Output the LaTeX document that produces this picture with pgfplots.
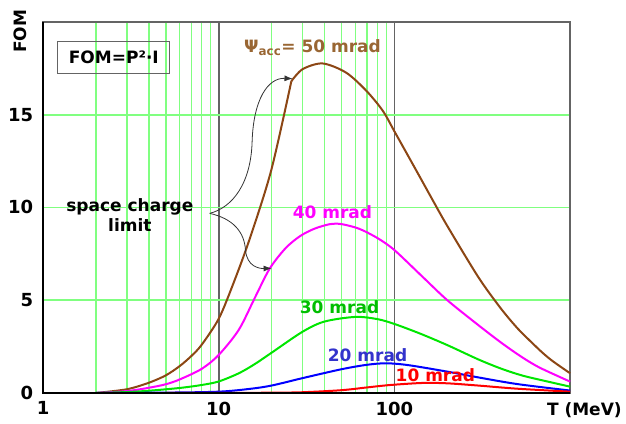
\documentclass[border=0pt]{standalone}
\usepackage{fontspec}
\setmainfont{DejaVu Sans}
\usepackage{pgfplots}
\pgfplotsset{compat=1.18}
\usetikzlibrary{arrows.meta}

\definecolor{gridgreen}{RGB}{128,255,128}
\definecolor{frame}{RGB}{100,100,100}
\definecolor{c50}{RGB}{140,70,20}
\definecolor{l50}{RGB}{153,102,51}
\definecolor{c40}{RGB}{255,0,255}
\definecolor{c30}{RGB}{0,230,0}
\definecolor{l30}{RGB}{0,190,0}
\definecolor{c20}{RGB}{0,0,255}
\definecolor{l20}{RGB}{51,51,204}
\definecolor{c10}{RGB}{255,0,0}

\begin{document}
\fontsize{17}{20}\selectfont\bfseries
\begin{tikzpicture}
\begin{axis}[
    xmode=log,
    xmin=1, xmax=1000, ymin=0, ymax=20,
    scale only axis,
    width=527pt, height=371pt,
    xtick={1,10,100}, xticklabels={1,10,100},
    ytick={0,5,10,15},
    major tick length=0pt, minor tick length=0pt,
    xmajorgrids, xminorgrids, ymajorgrids,
    major x grid style={frame, line width=1.8pt},
    minor x grid style={gridgreen, line width=1.5pt},
    major y grid style={gridgreen, line width=1.7pt},
    axis line style={frame, line width=2.2pt},
    tick label style={font=\fontsize{18}{21}\selectfont\bfseries},
    /pgf/number format/assume math mode=true,
    yticklabel style={xshift=-4pt},
    xticklabel style={yshift=-3pt},
    clip=false,
]

%% 50 mrad, below the space charge limit
\addplot[c50, line width=2pt, smooth] coordinates {
    (2,0) (3,0.2) (4,0.55) (5,0.95) (6,1.45) (7,2.0) (8,2.6) (10,4.0)
    (12,5.8) (15,8.3) (19.9,12.0) (25.9,16.8)
};
%% 50 mrad, above it
\addplot[c50, line width=2pt, smooth] coordinates {
    (25.9,16.8) (30,17.45) (39,17.76)
    (53,17.27) (69,16.3) (86,15.2) (100,14.1) (133,12.0) (165,10.4)
    (200,9.0) (300,6.25) (400,4.6) (500,3.5) (600,2.75) (700,2.15)
    (800,1.7) (1000,1.06)
};
%% 40 mrad
\addplot[c40, line width=2pt, smooth] coordinates {
    (2,0) (3,0.1) (4,0.28) (5,0.47) (6,0.73) (8,1.3) (10,2.05) (13,3.4)
    (16,5.1) (19.5,6.7) (24,7.8) (29,8.45) (35,8.85) (43,9.1) (50,9.1)
    (63,8.85) (80,8.35) (100,7.7) (145,6.25) (200,5.0) (300,3.66)
    (400,2.75) (500,2.1) (600,1.62) (700,1.28) (1000,0.61)
};
%% 30 mrad
\addplot[c30, line width=2pt, smooth] coordinates {
    (2,0) (3,0.05) (4,0.12) (6,0.27) (8,0.43) (10,0.62) (13,1.06)
    (16,1.55) (20,2.17) (30,3.3) (40,3.85) (60,4.1) (80,3.98) (100,3.72)
    (140,3.2) (200,2.58) (300,1.81) (400,1.33) (500,1.02) (600,0.82)
    (1000,0.34)
};
%% 20 mrad
\addplot[c20, line width=2pt, smooth] coordinates {
    (2,0) (5,0.02) (10,0.07) (15,0.22) (20,0.4) (30,0.8) (50,1.28)
    (70,1.52) (90,1.6) (120,1.5) (200,1.15) (300,0.84) (500,0.48)
    (1000,0.13)
};
%% 10 mrad
\addplot[c10, line width=2pt, smooth] coordinates {
    (5,0) (10,0.005) (20,0.015) (30,0.04) (50,0.15) (70,0.3) (95,0.43)
    (145,0.54) (200,0.52) (300,0.4) (500,0.23) (1000,0.07)
};

% black left and bottom axis lines
\draw[black, line width=2.2pt] (rel axis cs:0,1) -- (rel axis cs:0,0) -- (rel axis cs:1,0);

% labels
\node[rotate=90] at (rel axis cs:-0.0436,0.975) {FOM};
\node at (rel axis cs:1.027,-0.046) {T (MeV)};
\node[draw=frame, line width=0.8pt, inner sep=4pt, minimum width=112pt, minimum height=32pt]
    at (axis cs:2.53,18.1) {FOM=P²·I};

\node[text=l50] at (axis cs:34.2,18.6) {Ψ\textsubscript{acc}= 50 mrad};
\node[text=c40] at (axis cs:44.4,9.73) {40 mrad};
\node[text=l30] at (axis cs:48.7,4.62) {30 mrad};
\node[text=l20] at (axis cs:70.3,2.04) {20 mrad};
\node[text=c10] at (axis cs:171,0.97) {10 mrad};
\node[align=center] at (axis cs:3.12,9.57) {space charge\\limit};

% space charge arrows
\draw[black!80, line width=0.8pt, -{Latex[length=8pt,width=6pt]}]
    (axis cs:8.89,9.68) .. controls (axis cs:12,10.0) and (axis cs:15.3,11.3) ..
    (axis cs:15.5,13.6) .. controls (axis cs:15.8,15.8) and (axis cs:19,17.0) ..
    (axis cs:26.3,16.94);
\draw[black!80, line width=0.8pt, -{Latex[length=8pt,width=6pt]}]
    (axis cs:8.89,9.68) .. controls (axis cs:12,9.4) and (axis cs:14,8.7) ..
    (axis cs:14.2,7.7) .. controls (axis cs:14.5,6.8) and (axis cs:17,6.7) ..
    (axis cs:20,6.72);

\coordinate (bbA) at (rel axis cs:-0.0816,-0.0836);
\coordinate (bbB) at (rel axis cs:1.106,1.059);
\end{axis}
\pgfresetboundingbox
\path (bbA) rectangle (bbB);
\end{tikzpicture}
\end{document}
